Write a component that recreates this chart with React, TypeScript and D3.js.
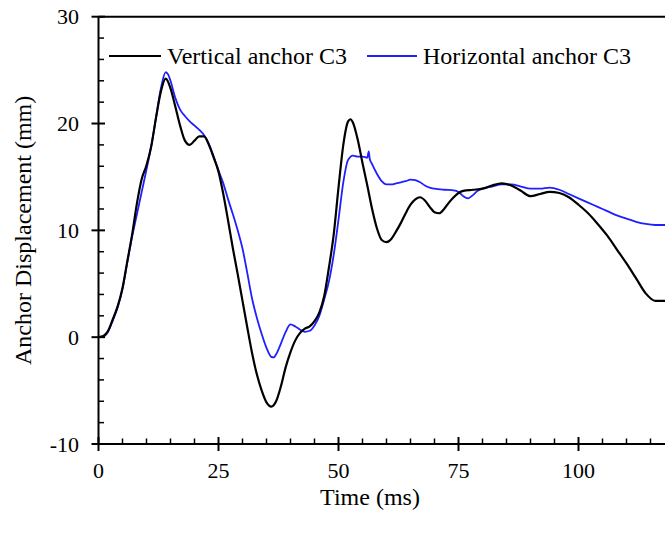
import React from "react";
import * as d3 from "d3";

const timeV = [0,1,2,3,4,5,6,7,8,9,10,11,12,13,14,15,16,17,18,19,20,21,22,23,24,25,26,27,28,29,30,31,32,33,34,35,36,37,38,39,40,41,42,43,44,45,46,47,48,49,50,51,52,52.5,53,54,55,56,57,58,59,60,61,62,63,64,65,66,67,68,69,70,71,72,73,74,75,76,78,80,82,84,86,88,90,92,94,96,98,100,102,104,106,108,110,112,114,116,118,120];
const vertical = [0,0.1,0.6,1.7,2.9,4.6,7.1,9.6,12.5,14.8,16.1,17.9,20.6,23.0,24.2,23.3,21.6,19.8,18.4,18.0,18.4,18.8,18.8,18.0,16.8,15.5,13.4,10.9,8.3,5.9,3.4,0.9,-1.5,-3.5,-5.0,-6.1,-6.5,-6.0,-4.6,-2.8,-1.4,-0.3,0.4,0.8,1.0,1.5,2.3,3.8,6.5,9.6,14.0,18.0,20.2,20.4,20.1,18.5,16.3,14.2,12.0,10.2,9.1,8.9,9.2,9.9,10.7,11.6,12.4,12.9,13.1,12.8,12.2,11.7,11.6,12.0,12.6,13.1,13.5,13.7,13.8,13.9,14.2,14.4,14.2,13.7,13.2,13.4,13.6,13.5,13.1,12.4,11.6,10.6,9.5,8.2,6.9,5.5,4.1,3.4,3.4,3.5];

const timeH = [0,1,2,3,4,5,6,7,8,9,10,11,12,13,14,14.5,15,16,17,18,19,20,21,22,23,24,25,26,27,28,29,30,31,32,33,34,35,36,36.5,37,38,39,40,41,42,43,44,45,46,47,48,49,50,51,52,53,54,55,56,56.3,56.5,57,58,59,60,61,62,63,64,65,66,67,68,69,70,72,74,75,76,77,78,79,80,82,84,86,88,90,92,94,96,98,100,102,104,106,108,110,112,114,116,118,120];
const horizontal = [0,0.05,0.5,1.6,2.8,4.5,7.0,9.4,11.5,13.6,15.7,17.9,20.6,23.3,24.8,24.6,24.0,22.4,21.3,20.7,20.2,19.8,19.4,18.9,18.1,16.9,15.6,14.4,12.9,11.5,10.0,8.3,6.0,3.6,1.8,0.3,-1.0,-1.85,-1.9,-1.6,-0.6,0.5,1.2,1.0,0.7,0.5,0.6,1.1,2.0,3.5,5.2,7.7,11.0,14.5,16.6,17.0,16.9,16.9,16.8,17.4,16.7,16.2,15.3,14.6,14.3,14.3,14.4,14.5,14.6,14.75,14.7,14.5,14.2,14.0,13.9,13.8,13.75,13.6,13.2,13.0,13.3,13.7,13.9,14.1,14.3,14.3,14.1,13.9,13.9,14.0,13.8,13.4,13.0,12.6,12.2,11.8,11.4,11.1,10.8,10.6,10.5,10.5,10.5];

const xMajor = [0, 25, 50, 75, 100];
const yMajor = [-10, 0, 10, 20, 30];
const seriesNames = ["Vertical anchor C3", "Horizontal anchor C3"];
const xTitle = "Time (ms)";
const yTitle = "Anchor Displacement (mm)";

const W = 665, H = 541;
const FONT = "'Liberation Serif', 'Times New Roman', serif";

export default function App() {
  const x = d3.scaleLinear().domain([0, 120]).range([98.5, 674.5]);
  const y = d3.scaleLinear().domain([-10, 30]).range([444, 16.7]);
  const line = d3.line<[number, number]>().x(d => x(d[0])).y(d => y(d[1])).curve(d3.curveMonotoneX);
  const vPts = timeV.map((t, i) => [t, vertical[i]] as [number, number]);
  const hPts = timeH.map((t, i) => [t, horizontal[i]] as [number, number]);
  const xMinor = d3.range(0, 121, 5).filter(v => v % 25 !== 0);
  const yMinor = d3.range(-10, 31, 2).filter(v => v % 10 !== 0);
  const x0 = x(0), yb = y(-10), yt = y(30);

  return (
    <svg width={W} height={H} style={{ position: "absolute", left: 0, top: 0, background: "#fff" }} fontFamily={FONT}>
      <defs>
        <clipPath id="plot"><rect x={x0} y={yt - 5} width={W - x0} height={yb - yt + 10} /></clipPath>
      </defs>
      <g clipPath="url(#plot)">
        <path d={line(hPts) || ""} fill="none" stroke="#1f1fff" strokeWidth={1.8} />
        <path d={line(vPts) || ""} fill="none" stroke="#000" strokeWidth={2.2} />
      </g>
      <line x1={x0} x2={W + 5} y1={yb} y2={yb} stroke="#000" strokeWidth={2} />
      <line x1={x0} x2={W + 5} y1={yt} y2={yt} stroke="#000" strokeWidth={2} />
      <line x1={x0} x2={x0} y1={yt} y2={yb} stroke="#000" strokeWidth={2} />
      {xMajor.map(v => (
        <g key={"xm" + v}>
          <line x1={x(v)} x2={x(v)} y1={yb - 7} y2={yb + 7} stroke="#000" strokeWidth={2} />
          <text x={x(v)} y={yb + 34} textAnchor="middle" fontSize={22}>{v}</text>
        </g>
      ))}
      {xMinor.map(v => (
        <line key={"xn" + v} x1={x(v)} x2={x(v)} y1={yb - 5.5} y2={yb} stroke="#000" strokeWidth={1.5} />
      ))}
      {yMajor.map(v => (
        <g key={"ym" + v}>
          <line x1={x0 - 7} x2={x0 + 6.5} y1={y(v)} y2={y(v)} stroke="#000" strokeWidth={2} />
          <text x={79} y={y(v)} dy="0.35em" textAnchor="end" fontSize={22}>{v}</text>
        </g>
      ))}
      {yMinor.map(v => (
        <line key={"yn" + v} x1={x0} x2={x0 + 5.5} y1={y(v)} y2={y(v)} stroke="#000" strokeWidth={1.5} />
      ))}
      <line x1={109} x2={161} y1={56} y2={56} stroke="#000" strokeWidth={2.2} />
      <text x={167} y={64} fontSize={24}>{seriesNames[0]}</text>
      <line x1={367} x2={417} y1={56} y2={56} stroke="#1f1fff" strokeWidth={1.8} />
      <text x={423} y={64} fontSize={24}>{seriesNames[1]}</text>
      <text x={370} y={505} textAnchor="middle" fontSize={24}>{xTitle}</text>
      <text transform={`translate(31, ${(yt + yb) / 2}) rotate(-90)`} textAnchor="middle" fontSize={24}>{yTitle}</text>
    </svg>
  );
}
